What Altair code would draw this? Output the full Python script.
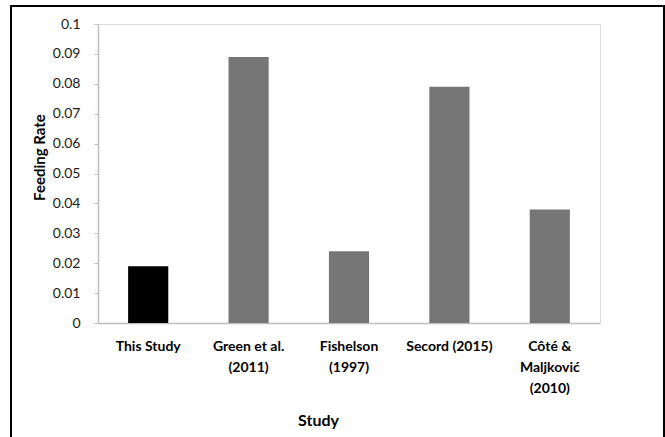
import altair as alt
import pandas as pd

studies = ["This Study", "Green et al. (2011)", "Fishelson (1997)", "Secord (2015)", "Côté & Maljković (2010)"]
label_lines = [["This Study"], ["Green et al.", "(2011)"], ["Fishelson", "(1997)"], ["Secord (2015)"], ["Côté &", "Maljković", "(2010)"]]
rates = [0.019, 0.089, 0.024, 0.079, 0.038]
colors = ["#000000", "#767676", "#767676", "#767676", "#767676"]

df = pd.DataFrame({"study": studies, "rate": rates, "color": colors})

label_expr = "{" + ", ".join(
    '"%s": %s' % (s, "[" + ", ".join('"%s"' % l for l in lines) + "]")
    for s, lines in zip(studies, label_lines)
) + "}[datum.value]"

FONT = "Lato"

bars = alt.Chart(df).mark_bar().encode(
    x=alt.X("study:N", sort=studies, title="Study",
            scale=alt.Scale(paddingInner=0.6, paddingOuter=0.3),
            axis=alt.Axis(labelExpr=label_expr, labelAngle=0, ticks=False,
                          labelPadding=16, labelFontWeight="bold", labelFontSize=14,
                          labelColor="#000000", labelLineHeight=21, labelBaseline="top",
                          domainColor="#bfbfbf", domainWidth=1.5,
                          titleFontSize=16, titleFontWeight="bold",
                          titleX=220, titleY=89, titleBaseline="top")),
    y=alt.Y("rate:Q", title="Feeding Rate",
            scale=alt.Scale(domain=[0, 0.1]),
            axis=alt.Axis(values=[0, 0.01, 0.02, 0.03, 0.04, 0.05, 0.06, 0.07, 0.08, 0.09, 0.1],
                          format="", grid=False, tickSize=4, labelPadding=14,
                          tickColor="#bfbfbf", domainColor="#bfbfbf", domainWidth=1.5,
                          labelFontSize=14, labelColor="#1a1a1a",
                          titleFontSize=15, titleFontWeight="bold",
                          titleX=-59, titleY=133, titleAngle=-90, titleBaseline="middle")),
    color=alt.Color("color:N", scale=None),
)

frame = alt.Chart(df).mark_rect(fill=None, stroke="#000000", strokeWidth=2).encode(
    x=alt.value(-87), x2=alt.value(566), y=alt.value(-18), y2=alt.value(450)
)

chart = alt.layer(frame, bars).properties(
    width=502, height=299,
    padding={"left": 98, "top": 24, "right": 65, "bottom": 114},
    autosize=alt.AutoSizeParams(type="none"),
).configure_view(stroke=None).configure(font=FONT)

chart.save("out.html", embed_options={"renderer": "svg", "actions": False})
